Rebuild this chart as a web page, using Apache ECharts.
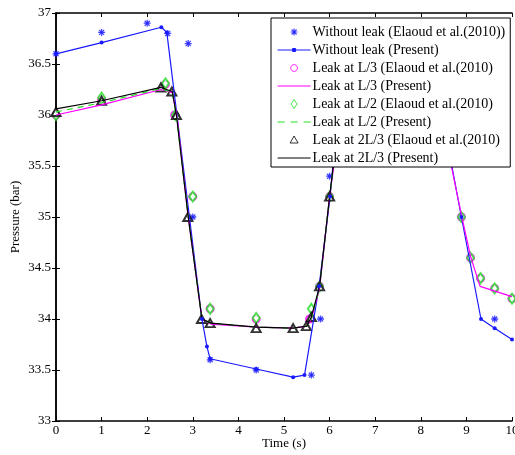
<!DOCTYPE html>
<html>
<head>
<meta charset="utf-8">
<script src="https://cdn.jsdelivr.net/npm/echarts@6/dist/echarts.min.js"></script>
<style>
  html, body { margin: 0; padding: 0; background: #fff; }
  #chart { width: 515px; height: 455px; }
</style>
</head>
<body>
<div id="chart"></div>
<script>
// Without leak - Elaoud et al. (2010)
var noLeakRefT = [0, 1, 2.0, 2.45, 2.9, 3.0, 3.38, 4.39, 5.6, 5.8, 6.0, 8.89, 9.62]
var noLeakRefP = [36.6, 36.81, 36.9, 36.8, 36.7, 35.0, 33.6, 33.5, 33.45, 34.0, 35.4, 35.0, 34.0]
// Without leak - present
var noLeakT = [0, 1, 2.31, 2.43, 3.2, 3.31, 3.38, 4.39, 5.2, 5.45, 5.77, 6.01, 6.3, 8.2, 8.89, 9.32, 9.62, 10.0]
var noLeakP = [36.6, 36.71, 36.86, 36.81, 34.0, 33.73, 33.61, 33.51, 33.43, 33.45, 34.32, 35.2, 36.6, 36.65, 35.0, 34.0, 33.91, 33.8]
// Leak at L/3 - Elaoud
var l3RefT = [0, 1, 2.4, 2.6, 3.0, 3.38, 4.39, 5.56, 5.78, 6.0, 8.89, 9.09, 9.31, 9.62, 10.0]
var l3RefP = [36.0, 36.15, 36.3, 36.0, 35.2, 34.1, 34.0, 34.0, 34.32, 35.2, 35.0, 34.6, 34.4, 34.3, 34.2]
// Leak at L/3 - present
var l3T = [0, 1, 2.3, 2.55, 2.65, 2.9, 3.2, 3.4, 4.4, 5.2, 5.5, 5.6, 5.78, 6.0, 6.3, 8.3, 8.9, 9.1, 9.2, 9.3, 10.0]
var l3P = [36.0, 36.1, 36.25, 36.22, 36.0, 35.0, 34.0, 33.95, 33.92, 33.91, 33.93, 34.0, 34.3, 35.2, 36.2, 36.3, 35.0, 34.6, 34.46, 34.32, 34.22]
// Leak at L/2 - Elaoud
var l2RefT = [0, 1, 2.4, 2.62, 3.0, 3.38, 4.39, 5.6, 5.78, 6.0, 8.89, 9.09, 9.31, 9.62, 10.0]
var l2RefP = [36.0, 36.17, 36.31, 36.0, 35.2, 34.1, 34.01, 34.1, 34.32, 35.2, 35.0, 34.6, 34.4, 34.3, 34.2]
// Leak at L/2 - present
var l2T = [0, 1, 2.3, 2.55, 2.64, 2.9, 3.2, 3.4, 4.4, 5.2, 5.5, 5.6, 5.78, 6.0, 6.3, 7.0]
var l2P = [36.03, 36.12, 36.26, 36.22, 36.0, 35.0, 34.0, 33.96, 33.92, 33.91, 33.93, 34.0, 34.31, 35.2, 36.25, 36.35]
// Leak at 2L/3 - Elaoud
var l23RefT = [0, 1, 2.3, 2.54, 2.64, 2.89, 3.19, 3.38, 4.39, 5.2, 5.49, 5.6, 5.78, 6.0]
var l23RefP = [36.03, 36.14, 36.27, 36.23, 36.0, 35.0, 34.0, 33.96, 33.91, 33.91, 33.93, 34.02, 34.32, 35.2]
// Leak at 2L/3 - present
var l23T = [0, 1, 2.3, 2.55, 2.64, 2.9, 3.2, 3.4, 4.4, 5.2, 5.5, 5.6, 5.78, 6.0, 6.3, 7.0]
var l23P = [36.06, 36.14, 36.27, 36.23, 36.0, 35.0, 34.0, 33.96, 33.92, 33.91, 33.93, 34.02, 34.32, 35.2, 36.3, 36.4]

function zip(t, p) {
  return t.map(function (v, i) { return [v, p[i]] })
}

var font = 'Liberation Serif'
var blue = '#1a1aff'
var magenta = '#ff00ff'
var green = '#22dd22'
var star = 'path://M0,-5L0,5M-5,0L5,0M-3.6,-3.6L3.6,3.6M-3.6,3.6L3.6,-3.6M-1.5,-1.5L1.5,-1.5L1.5,1.5L-1.5,1.5Z'

// legend icons drawn in a 33x10 box (M0,0M33,10 fixes the box)
var box = 'M0,0M33,10'
var icons = {
  star: 'path://' + box + 'M16.5,1.5L16.5,8.5M13,5L20,5M14,2.5L19,7.5M14,7.5L19,2.5M15.5,4L17.5,4L17.5,6L15.5,6Z',
  lineDot: 'path://' + box + 'M0,5L33,5M15,3.5L18,3.5L18,6.5L15,6.5Z',
  circle: 'path://' + box + 'M16.5,1.5L18.6,2.2L19.8,4L19.8,6L18.6,7.8L16.5,8.5L14.4,7.8L13.2,6L13.2,4L14.4,2.2Z',
  line: 'path://' + box + 'M0,5L33,5',
  diamond: 'path://' + box + 'M16.5,0.5L19.5,5L16.5,9.5L13.5,5Z',
  dashed: 'path://' + box + 'M0,5L7,5M13,5L20,5M26,5L33,5',
  triangle: 'path://' + box + 'M16.5,1L20.5,8L12.5,8Z'
}

var myChart = echarts.init(document.getElementById('chart'))
var option = {
  animation: false,
  textStyle: { fontFamily: font },
  grid: { left: 56, right: 3, top: 13, bottom: 34, outerBoundsMode: 'none', containLabel: false },
  legend: {
    orient: 'vertical',
    left: 271,
    top: 18,
    padding: [7, 5, 2, 6],
    itemWidth: 33,
    itemHeight: 10,
    itemGap: 4,
    backgroundColor: '#fff',
    borderColor: '#000',
    borderWidth: 1,
    borderRadius: 0,
    textStyle: { fontFamily: font, fontSize: 14, color: '#000', padding: [0, 0, 0, -3] },
    data: [
      { name: 'Without leak (Elaoud et al.(2010))', icon: icons.star, itemStyle: { color: blue, borderColor: blue, borderWidth: 1.2 } },
      { name: 'Without leak (Present)', icon: icons.lineDot, itemStyle: { color: blue, borderColor: blue, borderWidth: 1 } },
      { name: 'Leak at L/3 (Elaoud et al.(2010)', icon: icons.circle, itemStyle: { color: 'rgba(0,0,0,0)', borderColor: magenta, borderWidth: 1 } },
      { name: 'Leak at L/3 (Present)', icon: icons.line, itemStyle: { color: magenta, borderColor: magenta, borderWidth: 1.2 } },
      { name: 'Leak at L/2 (Elaoud et al.(2010)', icon: icons.diamond, itemStyle: { color: 'rgba(0,0,0,0)', borderColor: green, borderWidth: 1 } },
      { name: 'Leak at L/2 (Present)', icon: icons.dashed, itemStyle: { color: green, borderColor: green, borderWidth: 1 } },
      { name: 'Leak at 2L/3 (Elaoud et al.(2010)', icon: icons.triangle, itemStyle: { color: 'rgba(0,0,0,0)', borderColor: '#000', borderWidth: 1 } },
      { name: 'Leak at 2L/3 (Present)', icon: icons.line, itemStyle: { color: '#000', borderColor: '#000', borderWidth: 1 } }
    ]
  },
  xAxis: [{
    type: 'value', min: 0, max: 10, interval: 1,
    name: 'Time (s)', nameLocation: 'middle', nameGap: 16, nameMoveOverlap: false,
    nameTextStyle: { fontFamily: font, fontSize: 13, color: '#000' },
    axisLine: { lineStyle: { color: '#000', width: 1.5 } },
    axisTick: { inside: true, length: 4, lineStyle: { color: '#000' } },
    axisLabel: { fontFamily: font, fontSize: 13, color: '#000', margin: 3 },
    splitLine: { show: false }
  }, {
    type: 'value', min: 0, max: 10, interval: 1, position: 'top',
    axisLine: { lineStyle: { color: '#000', width: 1.5 } },
    axisTick: { inside: true, length: 4, lineStyle: { color: '#000' } },
    axisLabel: { show: false },
    splitLine: { show: false }
  }],
  yAxis: [{
    type: 'value', min: 33, max: 37, interval: 0.5,
    name: 'Pressure (bar)', nameLocation: 'middle', nameGap: 34, nameMoveOverlap: false,
    nameTextStyle: { fontFamily: font, fontSize: 13, color: '#000' },
    axisLine: { show: true, lineStyle: { color: '#000', width: 1.5 } },
    axisTick: { show: true, inside: true, length: 4, lineStyle: { color: '#000' } },
    axisLabel: { fontFamily: font, fontSize: 13, color: '#000', margin: 5 },
    splitLine: { show: false }
  }, {
    type: 'value', min: 33, max: 37, interval: 0.5, position: 'right',
    axisLine: { show: true, lineStyle: { color: '#000', width: 1.5 } },
    axisTick: { show: true, inside: true, length: 4, lineStyle: { color: '#000' } },
    axisLabel: { show: false },
    splitLine: { show: false }
  }],
  series: [{
    name: 'Without leak (Elaoud et al.(2010))',
    type: 'scatter',
    symbol: star,
    symbolSize: 7,
    itemStyle: { color: blue, borderColor: blue, borderWidth: 1.3 },
    data: zip(noLeakRefT, noLeakRefP)
  }, {
    name: 'Without leak (Present)',
    type: 'line',
    symbol: 'circle',
    symbolSize: 4,
    itemStyle: { color: blue },
    lineStyle: { color: blue, width: 1.2 },
    data: zip(noLeakT, noLeakP)
  }, {
    name: 'Leak at L/3 (Elaoud et al.(2010)',
    type: 'scatter',
    symbol: 'emptyCircle',
    symbolSize: 7,
    itemStyle: { color: magenta, borderColor: magenta, borderWidth: 1 },
    data: zip(l3RefT, l3RefP)
  }, {
    name: 'Leak at L/3 (Present)',
    type: 'line',
    symbol: 'none',
    itemStyle: { color: magenta },
    lineStyle: { color: magenta, width: 1.2 },
    data: zip(l3T, l3P)
  }, {
    name: 'Leak at L/2 (Elaoud et al.(2010)',
    type: 'scatter',
    symbol: 'emptyDiamond',
    symbolSize: [7, 10],
    itemStyle: { color: green, borderColor: green, borderWidth: 1.2 },
    data: zip(l2RefT, l2RefP)
  }, {
    name: 'Leak at L/2 (Present)',
    type: 'line',
    symbol: 'none',
    itemStyle: { color: green },
    lineStyle: { color: green, width: 1.2, type: [6, 5] },
    data: zip(l2T, l2P)
  }, {
    name: 'Leak at 2L/3 (Elaoud et al.(2010)',
    type: 'scatter',
    symbol: 'emptyTriangle',
    symbolSize: [9, 8],
    itemStyle: { color: '#000', borderColor: '#000', borderWidth: 1 },
    data: zip(l23RefT, l23RefP)
  }, {
    name: 'Leak at 2L/3 (Present)',
    type: 'line',
    symbol: 'none',
    itemStyle: { color: '#000' },
    lineStyle: { color: '#000', width: 1.2 },
    data: zip(l23T, l23P)
  }]
}
myChart.setOption(option)
</script>
</body>
</html>
